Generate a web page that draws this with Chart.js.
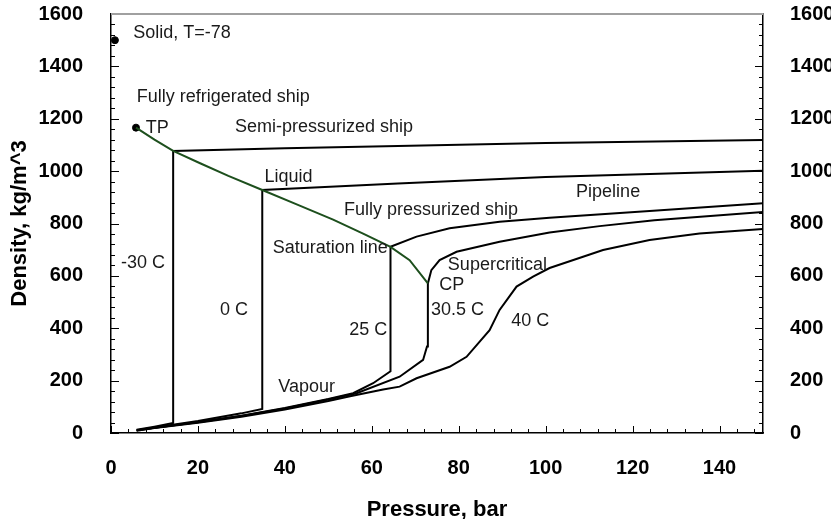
<!DOCTYPE html>
<html>
<head>
<meta charset="utf-8">
<script src="https://cdn.jsdelivr.net/npm/chart.js@4.4.1/dist/chart.umd.min.js"></script>
<style>
  body { margin: 0; background: #fff; }
  #wrap { width: 831px; height: 519px; }
</style>
</head>
<body>
<div id="wrap"><canvas id="myChart" width="831" height="519"></canvas></div>
<script>
// Tick labels
const pressureTicks = [0, 20, 40, 60, 80, 100, 120, 140];
const densityTicks = [0, 200, 400, 600, 800, 1000, 1200, 1400, 1600];

// Saturation line (triple point to critical point)
const satP = [5.75, 10, 14.3, 20.5, 27, 34.8, 43, 51.1, 58, 64.3, 68.7, 72.9];
const satD = [1166, 1120, 1077, 1030, 982, 928, 871, 815, 761, 711, 660, 571];

// Isotherms: pressure (bar) and density (kg/m^3)
const m30P = [5.9, 10, 14.3, 14.3, 40, 66, 100, 150];
const m30D = [12, 24, 38, 1077, 1087, 1096, 1107, 1119];

const c0P = [5.9, 10, 20, 30, 34.8, 34.8, 48, 66, 100, 150];
const c0D = [11, 21, 46, 75, 92, 928, 938, 953, 978, 1001];

const c25P = [5.9, 10, 20, 30, 40, 50, 55.7, 60.3, 64.3, 64.3, 70.3, 77.9, 89.4, 100.9, 123.9, 150];
const c25D = [10, 20, 42, 66, 96, 130, 152, 190, 236, 711, 750, 782, 807, 822, 848, 877];

const c305P = [5.9, 10, 20, 30, 40, 50, 56.5, 66.4, 71.8, 72.7, 72.9, 72.9, 73.7, 75.6, 79.5, 89.4, 100.9, 112.4, 125, 150];
const c305D = [10, 20, 41, 65, 94, 128, 152, 215, 279, 330, 393, 571, 622, 660, 692, 730, 766, 790, 812, 844];

const c40P = [5.9, 10, 20, 30, 40, 50, 55, 62.6, 66.4, 70.3, 77.9, 81.8, 87.1, 89.4, 93.3, 97.1, 100.9, 108.6, 113.2, 123.9, 135.4, 150];
const c40D = [9, 19, 39, 62, 90, 122, 140, 166, 177, 209, 253, 291, 393, 470, 559, 597, 630, 673, 699, 737, 762, 779];

// Marked points
const dotP = [0.9, 5.75];
const dotD = [1500, 1166];

// Text labels placed in data coordinates
const notes = [
  { text: 'Solid, T=-78', x: 5.1, y: 1527 },
  { text: 'Fully refrigerated ship', x: 5.9, y: 1284 },
  { text: 'TP', x: 8.0, y: 1166 },
  { text: 'Semi-pressurized ship', x: 28.5, y: 1168 },
  { text: 'Liquid', x: 35.3, y: 977 },
  { text: 'Fully pressurized ship', x: 53.6, y: 851 },
  { text: 'Pipeline', x: 107, y: 921 },
  { text: 'Saturation line', x: 37.2, y: 707 },
  { text: '-30 C', x: 2.3, y: 648 },
  { text: '0 C', x: 25.1, y: 470 },
  { text: '25 C', x: 54.8, y: 393 },
  { text: 'Vapour', x: 38.5, y: 177 },
  { text: 'Supercritical', x: 77.5, y: 641 },
  { text: 'CP', x: 75.5, y: 565 },
  { text: '30.5 C', x: 73.6, y: 470 },
  { text: '40 C', x: 92.1, y: 429 }
];

function toPoints(xs, ys) {
  return xs.map((x, i) => ({ x: x, y: ys[i] }));
}

function lineSet(label, xs, ys, color) {
  return {
    label: label,
    data: toPoints(xs, ys),
    showLine: true,
    borderColor: color,
    borderWidth: 2,
    pointRadius: 0,
    tension: 0,
    fill: false
  };
}

const FONT = "'Liberation Sans', Arial, sans-serif";

// Inward tick marks, grey top border and the text notes
const frame = {
  id: 'frame',
  afterDatasetsDraw(chart) {
    const ctx = chart.ctx;
    const a = chart.chartArea;
    const x = chart.scales.x;
    const y = chart.scales.y;
    ctx.save();
    ctx.strokeStyle = '#000';
    ctx.lineWidth = 1;
    for (let v = 0; v <= 150; v += 4) {
      const px = Math.round(x.getPixelForValue(v)) + 0.5;
      const len = v % 20 === 0 ? 7 : 4;
      ctx.beginPath();
      ctx.moveTo(px, a.bottom);
      ctx.lineTo(px, a.bottom - len);
      ctx.stroke();
    }
    for (let v = 0; v <= 1600; v += 40) {
      const py = Math.round(y.getPixelForValue(v)) + 0.5;
      const len = v % 200 === 0 ? 8 : 4;
      ctx.beginPath();
      ctx.moveTo(a.left, py);
      ctx.lineTo(a.left + len, py);
      ctx.moveTo(a.right, py);
      ctx.lineTo(a.right - len, py);
      ctx.stroke();
    }
    ctx.strokeStyle = '#a0a0a0';
    ctx.lineWidth = 2;
    ctx.beginPath();
    ctx.moveTo(a.left, a.top);
    ctx.lineTo(a.right, a.top);
    ctx.stroke();

    ctx.fillStyle = '#1a1a1a';
    ctx.font = '18px ' + FONT;
    ctx.textAlign = 'left';
    ctx.textBaseline = 'middle';
    notes.forEach(n => {
      ctx.fillText(n.text, x.getPixelForValue(n.x), y.getPixelForValue(n.y));
    });
    ctx.restore();
  }
};

function noPad(s) {
  s.paddingTop = 0;
  s.paddingBottom = 0;
  s.paddingLeft = 0;
  s.paddingRight = 0;
}

const tickFont = { family: FONT, size: 20, weight: 'bold' };
const titleFont = { family: FONT, size: 22, weight: 'bold' };

const ctx = document.getElementById('myChart').getContext('2d');
const myChart = new Chart(ctx, {
  type: 'scatter',
  data: {
    datasets: [
      lineSet('Saturation line', satP, satD, '#1d4f1d'),
      {
        label: 'Points',
        data: toPoints(dotP, dotD),
        pointRadius: 3.5,
        pointBackgroundColor: '#000',
        pointBorderColor: '#000',
        showLine: false
      },
      lineSet('-30 C', m30P, m30D, '#000'),
      lineSet('0 C', c0P, c0D, '#000'),
      lineSet('25 C', c25P, c25D, '#000'),
      lineSet('30.5 C', c305P, c305D, '#000'),
      lineSet('40 C', c40P, c40D, '#000')
    ]
  },
  options: {
    responsive: false,
    animation: false,
    layout: { padding: { top: 14, left: 0, right: 0, bottom: 0 } },
    plugins: {
      legend: { display: false },
      tooltip: { enabled: false }
    },
    scales: {
      x: {
        type: 'linear',
        position: 'bottom',
        min: 0,
        max: 150,
        afterBuildTicks: (s) => { s.ticks = pressureTicks.map(v => ({ value: v })); },
        afterFit: (s) => { s.height = 86; noPad(s); },
        grid: { display: false },
        border: { display: true, color: '#000', width: 1.5 },
        ticks: { padding: 15, color: '#000', font: tickFont, callback: (v) => String(v) },
        title: {
          display: true,
          text: 'Pressure, bar',
          color: '#000',
          padding: { top: 0, bottom: -4 },
          font: titleFont
        }
      },
      y: {
        type: 'linear',
        position: 'left',
        min: 0,
        max: 1600,
        afterBuildTicks: (s) => { s.ticks = densityTicks.map(v => ({ value: v })); },
        afterFit: (s) => { s.width = 111; noPad(s); },
        grid: { display: false },
        border: { display: true, color: '#000', width: 1.5 },
        ticks: { padding: 20, color: '#000', font: tickFont, callback: (v) => String(v) },
        title: {
          display: true,
          text: 'Density, kg/m^3',
          color: '#000',
          padding: { top: 7, bottom: 0 },
          font: titleFont
        }
      },
      y2: {
        type: 'linear',
        position: 'right',
        min: 0,
        max: 1600,
        afterBuildTicks: (s) => { s.ticks = densityTicks.map(v => ({ value: v })); },
        afterFit: (s) => { s.width = 68; noPad(s); },
        grid: { display: false },
        border: { display: true, color: '#000', width: 1.5 },
        ticks: { padding: 19, color: '#000', font: tickFont, callback: (v) => String(v) }
      }
    }
  },
  plugins: [frame]
});
</script>
</body>
</html>
